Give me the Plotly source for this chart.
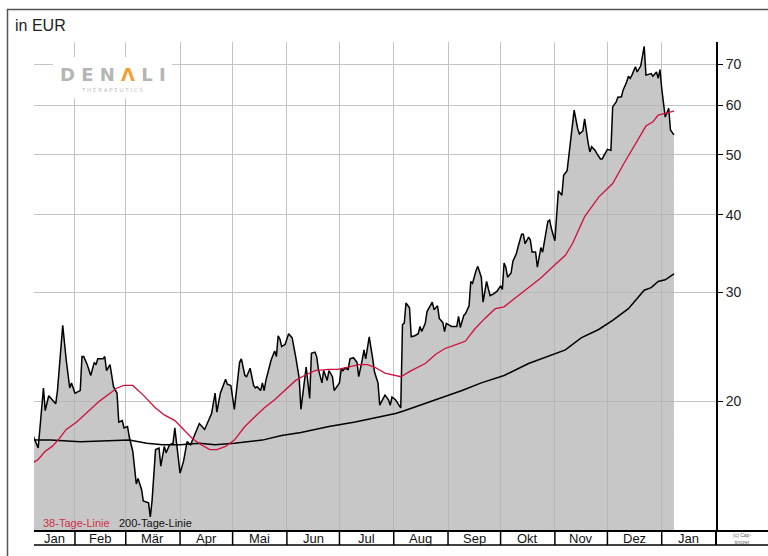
import math
import pandas as pd
import plotly.graph_objects as go

# ---------------- data (EUR) ----------------
price_dates = [
    "2020-01-08", "2020-01-11", "2020-01-14", "2020-01-15", "2020-01-17", "2020-01-19", "2020-01-21", "2020-01-22",
    "2020-01-25", "2020-01-27", "2020-01-29", "2020-01-30", "2020-02-01", "2020-02-04", "2020-02-05", "2020-02-06",
    "2020-02-08", "2020-02-10", "2020-02-12", "2020-02-13", "2020-02-14", "2020-02-17", "2020-02-18", "2020-02-19",
    "2020-02-21", "2020-02-23", "2020-02-25", "2020-02-26", "2020-02-28", "2020-02-29", "2020-03-02", "2020-03-03",
    "2020-03-05", "2020-03-07", "2020-03-08", "2020-03-10", "2020-03-11", "2020-03-14", "2020-03-15", "2020-03-16",
    "2020-03-18", "2020-03-20", "2020-03-21", "2020-03-23", "2020-03-24", "2020-03-26", "2020-03-28", "2020-03-29",
    "2020-03-30", "2020-04-01", "2020-04-03", "2020-04-05", "2020-04-07", "2020-04-09", "2020-04-12", "2020-04-15",
    "2020-04-19", "2020-04-21", "2020-04-22", "2020-04-24", "2020-04-27", "2020-04-28", "2020-04-30", "2020-05-02",
    "2020-05-05", "2020-05-06", "2020-05-08", "2020-05-09", "2020-05-11", "2020-05-13", "2020-05-14", "2020-05-15",
    "2020-05-17", "2020-05-18", "2020-05-19", "2020-05-20", "2020-05-21", "2020-05-23", "2020-05-25", "2020-05-26",
    "2020-05-27", "2020-05-28", "2020-05-29", "2020-05-31", "2020-06-02", "2020-06-04", "2020-06-06", "2020-06-07",
    "2020-06-08", "2020-06-09", "2020-06-11", "2020-06-12", "2020-06-14", "2020-06-15", "2020-06-17", "2020-06-18",
    "2020-06-19", "2020-06-21", "2020-06-22", "2020-06-24", "2020-06-25", "2020-06-27", "2020-06-28", "2020-06-29",
    "2020-07-01", "2020-07-02", "2020-07-03", "2020-07-04", "2020-07-06", "2020-07-07", "2020-07-09", "2020-07-11",
    "2020-07-12", "2020-07-14", "2020-07-15", "2020-07-16", "2020-07-18", "2020-07-20", "2020-07-21", "2020-07-23",
    "2020-07-24", "2020-07-26", "2020-07-27", "2020-07-29", "2020-07-30", "2020-07-31", "2020-08-02", "2020-08-03",
    "2020-08-05", "2020-08-06", "2020-08-07", "2020-08-08", "2020-08-10", "2020-08-11", "2020-08-13", "2020-08-15",
    "2020-08-16", "2020-08-17", "2020-08-19", "2020-08-20", "2020-08-23", "2020-08-24", "2020-08-26", "2020-08-27",
    "2020-08-29", "2020-08-30", "2020-08-31", "2020-09-02", "2020-09-03", "2020-09-06", "2020-09-07", "2020-09-08",
    "2020-09-10", "2020-09-11", "2020-09-13", "2020-09-14", "2020-09-15", "2020-09-17", "2020-09-18", "2020-09-20",
    "2020-09-21", "2020-09-23", "2020-09-24", "2020-09-25", "2020-09-27", "2020-09-29", "2020-10-01", "2020-10-02",
    "2020-10-03", "2020-10-04", "2020-10-05", "2020-10-07", "2020-10-08", "2020-10-10", "2020-10-11", "2020-10-13",
    "2020-10-14", "2020-10-15", "2020-10-17", "2020-10-18", "2020-10-19", "2020-10-21", "2020-10-22", "2020-10-24",
    "2020-10-25", "2020-10-27", "2020-10-28", "2020-10-29", "2020-10-30", "2020-11-01", "2020-11-02", "2020-11-03",
    "2020-11-05", "2020-11-06", "2020-11-08", "2020-11-10", "2020-11-12", "2020-11-14", "2020-11-15", "2020-11-17",
    "2020-11-18", "2020-11-20", "2020-11-21", "2020-11-22", "2020-11-24", "2020-11-25", "2020-11-27", "2020-11-28",
    "2020-11-30", "2020-12-01", "2020-12-03", "2020-12-04", "2020-12-06", "2020-12-07", "2020-12-09", "2020-12-10",
    "2020-12-12", "2020-12-13", "2020-12-14", "2020-12-15", "2020-12-17", "2020-12-18", "2020-12-20", "2020-12-22",
    "2020-12-23", "2020-12-25", "2020-12-26", "2020-12-27", "2020-12-29", "2020-12-30", "2020-12-31", "2021-01-01",
    "2021-01-02", "2021-01-03", "2021-01-05", "2021-01-06", "2021-01-08",
]
price_values = [
    17.6, 16.8, 21.0, 19.3, 20.4, 20.1, 19.8, 20.8,
    26.5, 23.3, 21.0, 21.4, 20.6, 20.8, 23.6, 23.6,
    22.9, 22.0, 23.1, 22.9, 23.4, 23.4, 23.6, 22.4,
    22.9, 21.1, 20.6, 18.5, 18.6, 18.1, 18.2, 17.5,
    16.6, 14.7, 15.0, 14.4, 13.8, 13.7, 13.0, 13.8,
    16.7, 16.8, 15.7, 16.9, 16.5, 17.0, 17.1, 18.1,
    17.0, 15.3, 16.0, 17.2, 17.0, 17.5, 18.4, 18.0,
    19.1, 20.6, 19.2, 20.6, 21.7, 21.3, 21.2, 19.4,
    23.1, 23.4, 22.0, 21.9, 22.6, 21.2, 21.0, 21.1,
    20.8, 21.4, 20.8, 21.6, 22.1, 23.3, 24.1, 23.6,
    25.5, 25.2, 24.5, 24.7, 25.7, 25.3, 23.6, 22.8,
    21.8, 19.4, 21.9, 22.7, 20.2, 23.9, 24.0, 23.6,
    22.5, 21.4, 22.4, 21.6, 22.4, 21.9, 20.8, 21.0,
    21.4, 22.5, 22.4, 22.6, 22.5, 23.4, 23.5, 23.1,
    21.9, 23.3, 24.2, 23.4, 25.4, 23.4, 22.3, 21.4,
    19.7, 20.2, 20.45, 20.1, 19.7, 20.3, 20.1, 19.9,
    19.5, 26.6, 26.7, 28.8, 28.3, 25.4, 25.5, 25.7,
    26.4, 25.9, 26.7, 27.9, 28.9, 28.1, 28.5, 27.2,
    26.8, 25.9, 26.7, 26.5, 26.4, 26.4, 27.4, 26.3,
    27.5, 27.7, 28.5, 31.2, 31.0, 32.5, 33.0, 31.7,
    28.9, 31.2, 30.5, 29.6, 29.8, 30.1, 30.7, 30.3,
    33.4, 32.9, 31.7, 32.2, 33.6, 34.6, 35.5, 37.2,
    37.2, 35.9, 36.8, 36.4, 34.8, 34.8, 32.9, 35.4,
    34.8, 37.5, 39.0, 39.2, 38.0, 36.3, 40.2, 43.7,
    43.0, 46.3, 47.1, 52.8, 59.0, 55.1, 54.0, 54.6,
    57.1, 52.2, 50.5, 51.5, 50.8, 50.2, 49.2, 49.2,
    50.5, 51.0, 50.8, 59.7, 60.8, 61.9, 62.0, 63.6,
    65.5, 66.9, 66.4, 67.2, 69.3, 68.0, 69.5, 74.8,
    67.2, 67.5, 67.6, 66.9, 68.0, 66.4, 68.6, 64.0,
    60.8, 57.5, 59.4, 54.8, 53.8,
]

ma38_dates = [
    "2020-01-08", "2020-01-11", "2020-01-15", "2020-01-19", "2020-01-23", "2020-01-27", "2020-02-02", "2020-02-09",
    "2020-02-15", "2020-02-21", "2020-02-25", "2020-02-29", "2020-03-05", "2020-03-11", "2020-03-18", "2020-03-23",
    "2020-03-29", "2020-04-03", "2020-04-08", "2020-04-13", "2020-04-18", "2020-04-22", "2020-04-27", "2020-05-02",
    "2020-05-08", "2020-05-14", "2020-05-19", "2020-05-25", "2020-05-31", "2020-06-06", "2020-06-11", "2020-06-17",
    "2020-06-25", "2020-06-30", "2020-07-06", "2020-07-12", "2020-07-17", "2020-07-21", "2020-07-27", "2020-08-02",
    "2020-08-05", "2020-08-11", "2020-08-19", "2020-08-25", "2020-08-30", "2020-09-06", "2020-09-11", "2020-09-16",
    "2020-09-22", "2020-09-28", "2020-10-03", "2020-10-09", "2020-10-17", "2020-10-24", "2020-11-01", "2020-11-07",
    "2020-11-11", "2020-11-18", "2020-11-26", "2020-12-04", "2020-12-11", "2020-12-17", "2020-12-23", "2020-12-27",
    "2020-12-30", "2021-01-04", "2021-01-08",
]
ma38_values = [
    15.9, 16.1, 16.6, 16.9, 17.4, 18.0, 18.5, 19.3,
    20.0, 20.6, 21.0, 21.2, 21.2, 20.45, 19.5, 19.0,
    18.6, 18.0, 17.4, 17.0, 16.7, 16.7, 16.9, 17.3,
    18.2, 18.9, 19.5, 20.1, 20.8, 21.6, 22.0, 22.4,
    22.5, 22.5, 22.7, 22.9, 22.9, 22.7, 22.2, 22.0,
    21.9, 22.4, 23.0, 23.8, 24.3, 24.7, 25.0, 26.1,
    27.2, 28.2, 28.4, 29.3, 30.5, 31.6, 33.2, 34.4,
    35.9, 39.7, 42.7, 44.9, 48.7, 52.1, 55.6, 56.5,
    57.9, 58.4, 58.8,
]

ma200_dates = [
    "2020-01-08", "2020-01-18", "2020-02-04", "2020-02-23", "2020-03-03", "2020-03-13", "2020-03-22", "2020-04-01",
    "2020-04-12", "2020-04-21", "2020-05-02", "2020-05-18", "2020-05-29", "2020-06-09", "2020-06-25", "2020-07-10",
    "2020-07-21", "2020-08-02", "2020-08-07", "2020-08-25", "2020-09-09", "2020-09-20", "2020-10-03", "2020-10-17",
    "2020-11-01", "2020-11-07", "2020-11-16", "2020-11-26", "2020-12-04", "2020-12-13", "2020-12-22", "2020-12-26",
    "2020-12-30", "2021-01-03", "2021-01-08",
]
ma200_values = [
    17.3, 17.3, 17.2, 17.3, 17.3, 17.1, 17.0, 17.0,
    17.1, 17.0, 17.1, 17.3, 17.6, 17.8, 18.2, 18.5,
    18.8, 19.1, 19.3, 20.1, 20.8, 21.4, 22.0, 23.0,
    23.9, 24.2, 25.3, 26.1, 27.0, 28.2, 30.2, 30.5,
    31.2, 31.4, 32.1,
]

month_labels = ["Jan", "Feb", "Mär", "Apr", "Mai", "Jun", "Jul", "Aug", "Sep", "Okt", "Nov", "Dez", "Jan"]
month_starts = [
    "2020-01-01", "2020-02-01", "2020-03-01", "2020-04-01", "2020-05-01", "2020-06-01", "2020-07-01",
    "2020-08-01", "2020-09-01", "2020-10-01", "2020-11-01", "2020-12-01", "2021-01-01", "2021-02-01",
]
y_ticks = [20, 30, 40, 50, 60, 70]
y_min, y_max = 12.34, 76.0
x_start, x_end = "2020-01-08 14:24", "2021-02-01"

# ---------------- styling ----------------
FONT = "Liberation Sans, Arial, sans-serif"
GRID = "#c4c4c4"
RED = "#d0103a"
W, H = 768, 556
ML, MR, MT, MB = 34, 52, 42, 25
PW, PH = W - ML - MR, H - MT - MB


def px_x(px):  # pixel -> paper x
    return (px - ML) / PW


def px_y(py):  # pixel -> paper y
    return 1 - (py - MT) / PH


fig = go.Figure()

# baseline for the filled area (well below the visible range)
fig.add_trace(go.Scatter(x=[price_dates[0], price_dates[-1]], y=[1, 1], mode="lines",
                         line=dict(width=0, color="rgba(0,0,0,0)"), hoverinfo="skip", showlegend=False))
fig.add_trace(go.Scatter(x=price_dates, y=price_values, mode="lines", fill="tonexty",
                         fillcolor="rgba(178,178,178,0.72)",
                         line=dict(color="#000000", width=1.5), name="Kurs", showlegend=False))
fig.add_trace(go.Scatter(x=ma200_dates, y=ma200_values, mode="lines",
                         line=dict(color="#000000", width=1.5), name="200-Tage-Linie", showlegend=False))
fig.add_trace(go.Scatter(x=ma38_dates, y=ma38_values, mode="lines",
                         line=dict(color=RED, width=1.3), name="38-Tage-Linie", showlegend=False))

box_bottom = px_y(545)
box_right = px_x(W + 2)

shapes = []
# month box
shapes.append(dict(type="line", xref="paper", yref="paper", x0=0, x1=box_right, y0=0, y1=0,
                   line=dict(color="#000", width=2)))
shapes.append(dict(type="line", xref="paper", yref="paper", x0=0, x1=box_right, y0=box_bottom, y1=box_bottom,
                   line=dict(color="#000", width=1.5)))
for ms in month_starts[1:-1]:
    shapes.append(dict(type="line", xref="x", yref="paper", x0=ms, x1=ms, y0=box_bottom, y1=0,
                       line=dict(color="#000", width=1.5)))
shapes.append(dict(type="line", xref="paper", yref="paper", x0=1, x1=1, y0=box_bottom, y1=0,
                   line=dict(color="#000", width=2)))
# outer frame
shapes.append(dict(type="line", xref="paper", yref="paper", x0=px_x(7.5), x1=px_x(7.5), y0=px_y(H + 5), y1=px_y(9),
                   line=dict(color="#555", width=1.5)))
shapes.append(dict(type="line", xref="paper", yref="paper", x0=px_x(7), x1=px_x(W + 5), y0=px_y(9.5), y1=px_y(9.5),
                   line=dict(color="#555", width=1.5)))
# white plate behind the logo
shapes.append(dict(type="rect", xref="paper", yref="paper", x0=px_x(53), x1=px_x(172), y0=px_y(98), y1=px_y(57),
                   fillcolor="white", line=dict(width=0), layer="above"))

annotations = []
# month labels
starts = [pd.Timestamp(s) for s in month_starts]
left = pd.Timestamp(x_start)
for i, lab in enumerate(month_labels):
    a = max(starts[i], left)
    b = starts[i + 1]
    mid = a + (b - a) / 2
    annotations.append(dict(x=mid, y=px_y(538.5), xref="x", yref="paper", text=lab, showarrow=False,
                            xanchor="center", yanchor="middle", font=dict(family=FONT, size=13, color="#111")))
annotations.append(dict(x=px_x(742), y=px_y(538.5), xref="paper", yref="paper", text="(c) Cap-<br>timizer",
                        showarrow=False, xanchor="center", yanchor="middle",
                        font=dict(family=FONT, size=5, color="#666")))
annotations.append(dict(x=px_x(13), y=px_y(25), xref="paper", yref="paper", text="in EUR", showarrow=False,
                        xanchor="left", yanchor="middle", font=dict(family=FONT, size=16, color="#222")))
annotations.append(dict(x=px_x(41), y=px_y(523), xref="paper", yref="paper", text="38-Tage-Linie",
                        showarrow=False, xanchor="left", yanchor="middle",
                        font=dict(family=FONT, size=11, color="#d0304a")))
annotations.append(dict(x=px_x(117), y=px_y(523), xref="paper", yref="paper", text="200-Tage-Linie",
                        showarrow=False, xanchor="left", yanchor="middle",
                        font=dict(family=FONT, size=11, color="#111")))
# logo
annotations.append(dict(x=px_x(112.5), y=px_y(74.5), xref="paper", yref="paper",
                        text='<b>D E N <span style="color:#f0a030">Λ</span> L I</b>',
                        showarrow=False, xanchor="center", yanchor="middle",
                        font=dict(family="DejaVu Sans, sans-serif", size=18, color="#b5b5b5")))
annotations.append(dict(x=px_x(112), y=px_y(90), xref="paper", yref="paper",
                        text="T H E R A P E U T I C S",
                        showarrow=False, xanchor="center", yanchor="middle",
                        font=dict(family="DejaVu Sans, sans-serif", size=5.5, color="#c0c0c0")))

fig.update_layout(
    width=W, height=H,
    margin=dict(l=ML, r=MR, t=MT, b=MB, pad=0),
    paper_bgcolor="white", plot_bgcolor="white",
    showlegend=False,
    shapes=shapes,
    annotations=annotations,
    xaxis=dict(type="date", range=[x_start, x_end], tickmode="array", tickvals=month_starts[1:],
               showticklabels=False, ticks="", showgrid=True, gridcolor=GRID, gridwidth=1,
               zeroline=False, showline=False, fixedrange=True),
    yaxis=dict(type="log", range=[math.log10(y_min), math.log10(y_max)], side="right",
               tickmode="array", tickvals=y_ticks, ticktext=[str(v) for v in y_ticks],
               showgrid=True, gridcolor=GRID, gridwidth=1, zeroline=False,
               showline=True, linecolor="#000", linewidth=2, ticks="outside", ticklen=5,
               tickcolor="#000", tickwidth=1, tickfont=dict(family=FONT, size=14, color="#222"),
               fixedrange=True),
)

fig.write_html("out.html", config={"displayModeBar": False},
               post_script="document.body.style.margin='0';document.body.style.overflow='hidden';")
